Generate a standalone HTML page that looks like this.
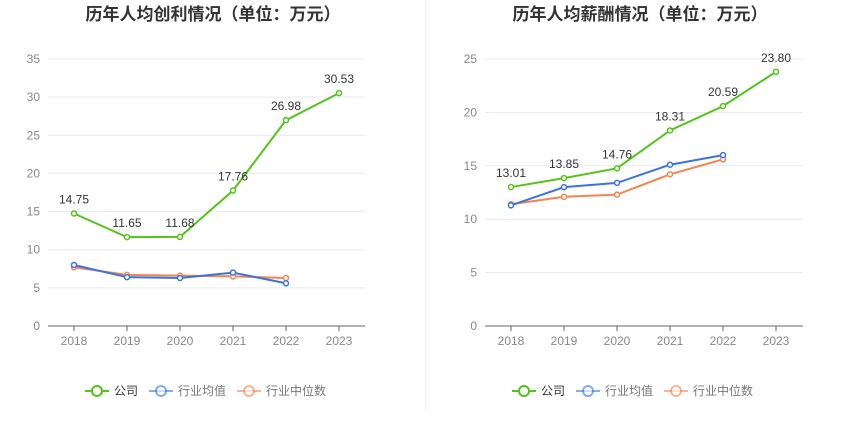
<!DOCTYPE html>
<html><head><meta charset="utf-8"><style>
body{margin:0;background:#fff;}
svg text{font-family:"Liberation Sans","Noto Sans CJK SC",sans-serif;}
</style></head><body>
<svg id="c" width="850" height="437"></svg>
<script>
const years=["2018","2019","2020","2021","2022","2023"];
const profitCompany=[14.75,11.65,11.68,17.76,26.98,30.53];
const profitAvg=[8.0,6.4,6.3,7.0,5.6];
const profitMedian=[7.7,6.7,6.6,6.5,6.3];
const salaryCompany=[13.01,13.85,14.76,18.31,20.59,23.80];
const salaryAvg=[11.3,13.0,13.4,15.1,16.0];
const salaryMedian=[11.4,12.1,12.3,14.2,15.6];
const profitTicks=[0,5,10,15,20,25,30,35];
const salaryTicks=[0,5,10,15,20,25];
const NS="http://www.w3.org/2000/svg";
const svg=document.getElementById('c');
function mk(t,a,p){const e=document.createElementNS(NS,t);for(const k in a)e.setAttribute(k,a[k]);(p||svg).appendChild(e);return e;}
const G='#52c41a',B='#3a74e0',O='#f5854f';
function chart(name,title,cx,x0,x1,ymax,ticks,comp,avg,med){
 const g=mk('g',{});
 
 
 const X=i=>x0+26+i*53, Y=v=>326-v/ymax*267;
 const t=mk('text',{x:cx,y:20,'text-anchor':'middle','font-size':17,'font-weight':'bold',fill:'#333'},g);t.textContent=title;
 
 ticks.forEach(v=>{
  mk('line',{x1:x0,x2:x1,y1:Y(v),y2:Y(v),stroke:v?'#e6e9f0':'#666','stroke-width':1},g);
  const l=mk('text',{x:x0-8,y:Y(v)+4,'text-anchor':'end','font-size':12,fill:'#888'},g);l.textContent=v;
  
 });
 years.forEach((y,i)=>{
  mk('line',{x1:X(i),x2:X(i),y1:326,y2:331,stroke:'#666'},g);
  const l=mk('text',{x:X(i),y:345,'text-anchor':'middle','font-size':12,fill:'#888'},g);l.textContent=y;
  
 });
 function series(d,c,sn,labels){
  const p=mk('polyline',{points:d.map((v,i)=>X(i)+','+Y(v)).join(' '),fill:'none',stroke:c,'stroke-width':2},g);
  
  d.forEach((v,i)=>{
   const m=mk('circle',{cx:X(i),cy:Y(v),r:2.5,fill:'#fff',stroke:c,'stroke-width':1.5},g);
   
   if(labels){const l=mk('text',{x:X(i),y:Y(v)-10,'text-anchor':'middle','font-size':12,fill:'#333'},g);l.textContent=v.toFixed(2);
    }
  });
 }
 series(med,O,'industry-median-line');
 series(avg,B,'industry-average-line');
 series(comp,G,'company-line',true);
 const items=[['公司',G],['行业均值',B],['行业中位数',O]];
 let lx=cx-128;
 items.forEach(([n,c],k)=>{
  const lg=mk('g',{},g);
  
  mk('line',{x1:lx,x2:lx+24,y1:391,y2:391,stroke:c,'stroke-width':2,opacity:k?0.6:1},lg);
  mk('circle',{cx:lx+12,cy:391,r:5,fill:'#fff',stroke:c,'stroke-width':2,opacity:k?0.6:1},lg);
  const l=mk('text',{x:lx+29,y:395,'font-size':12,fill:k?'#777':'#333'},lg);l.textContent=n;
  lx+=29+n.length*12+11;
 });
}
mk('line',{x1:425.5,x2:425.5,y1:0,y2:410,stroke:'#eee'});
chart('profit-chart','历年人均创利情况（单位：万元）',213,48,365,35,profitTicks,profitCompany,profitAvg,profitMedian);
chart('salary-chart','历年人均薪酬情况（单位：万元）',640,485,803,25,salaryTicks,salaryCompany,salaryAvg,salaryMedian);
</script>
</body></html>
